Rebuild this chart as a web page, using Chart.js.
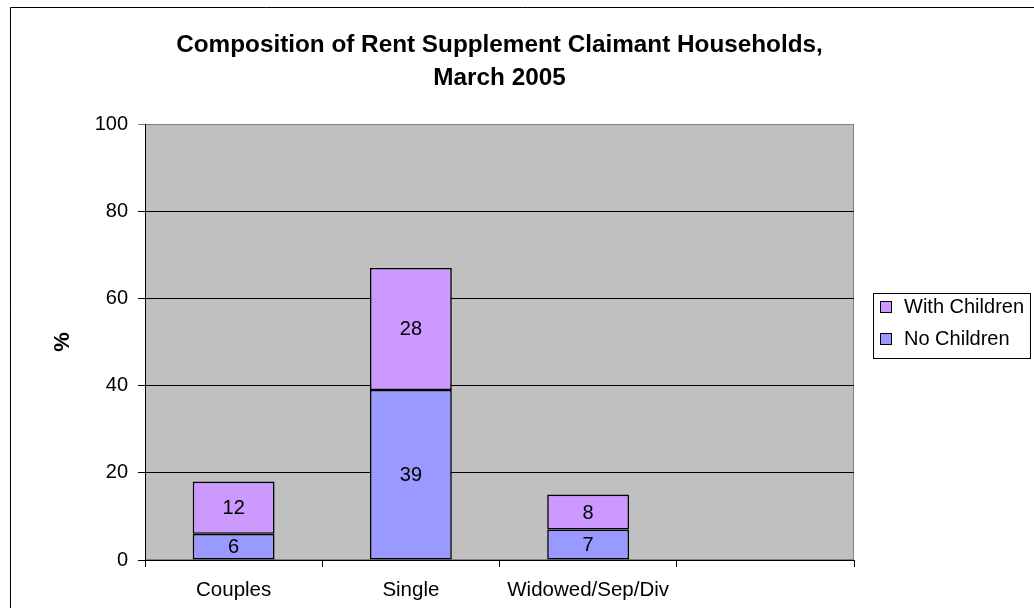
<!DOCTYPE html>
<html>
<head>
<meta charset="utf-8">
<script src="https://cdn.jsdelivr.net/npm/chart.js@4/dist/chart.umd.min.js"></script>
<style>
  html, body { margin: 0; padding: 0; background: #fff; }
  #wrap { width: 1034px; height: 608px; position: relative; }
</style>
</head>
<body>
<div id="wrap"><canvas id="chart" width="1034" height="608"></canvas></div>
<script>
const categories = ['Couples', 'Single', 'Widowed/Sep/Div', ''];
const noChildren = [6, 39, 7, null];
const withChildren = [12, 28, 8, null];
const yTicks = [0, 20, 40, 60, 80, 100];

const FONT = "'Liberation Sans', Arial, sans-serif";
const PURPLE = '#CC99FF';
const BLUE = '#9999FF';

Chart.defaults.font.family = FONT;
Chart.defaults.color = '#000';

// gray plot area, outer chart frame
const backdrop = {
    id: 'backdrop',
    beforeDraw(chart) {
        const {ctx, chartArea: a} = chart;
        ctx.save();
        ctx.fillStyle = '#C0C0C0';
        ctx.fillRect(a.left, a.top, a.right - a.left, a.bottom - a.top);
        ctx.strokeStyle = '#808080';
        ctx.lineWidth = 1;
        ctx.strokeRect(a.left + 0.5, a.top + 0.5, a.right - a.left - 1, a.bottom - a.top - 1);
        // outer frame
        ctx.strokeStyle = '#000';
        ctx.beginPath();
        ctx.moveTo(10.5, 608);
        ctx.lineTo(10.5, 7.5);
        ctx.lineTo(1034, 7.5);
        ctx.stroke();
        ctx.restore();
    }
};

// value labels in the middle of each segment
const valueLabels = {
    id: 'valueLabels',
    afterDatasetsDraw(chart) {
        const ctx = chart.ctx;
        ctx.save();
        ctx.font = '20px ' + FONT;
        ctx.fillStyle = '#000';
        ctx.textAlign = 'center';
        ctx.textBaseline = 'middle';
        chart.data.datasets.forEach((ds, i) => {
            chart.getDatasetMeta(i).data.forEach((bar, j) => {
                const v = ds.data[j];
                if (v == null) return;
                const {x, y, base} = bar.getProps(['x', 'y', 'base'], true);
                ctx.fillText(String(v), x, (y + base) / 2 + 1);
            });
        });
        ctx.restore();
    }
};

// excel style boxed legend
const boxLegend = {
    id: 'boxLegend',
    afterDraw(chart) {
        const ctx = chart.ctx;
        const items = [chart.data.datasets[1], chart.data.datasets[0]];
        const left = 873, top = 293, w = 157, h = 65;
        ctx.save();
        ctx.fillStyle = '#fff';
        ctx.fillRect(left, top, w, h);
        ctx.strokeStyle = '#000';
        ctx.lineWidth = 1;
        ctx.strokeRect(left + 0.5, top + 0.5, w, h);
        ctx.font = '20px ' + FONT;
        ctx.textBaseline = 'middle';
        items.forEach((ds, i) => {
            const cy = top + 13 + i * 32;
            ctx.fillStyle = ds.backgroundColor;
            ctx.fillRect(880, cy - 5, 12, 12);
            ctx.strokeRect(880.5, cy - 4.5, 11, 11);
            ctx.fillStyle = '#000';
            ctx.fillText(ds.label, 904, cy + 1);
        });
        ctx.restore();
    }
};

new Chart(document.getElementById('chart'), {
    type: 'bar',
    data: {
        labels: categories,
        datasets: [
            {
                label: 'No Children',
                data: noChildren,
                backgroundColor: BLUE,
                borderColor: '#000',
                borderWidth: 1.6,
                borderSkipped: false,
            },
            {
                label: 'With Children',
                data: withChildren,
                backgroundColor: PURPLE,
                borderColor: '#000',
                borderWidth: 1.6,
                borderSkipped: false,
            },
        ]
    },
    options: {
        responsive: false,
        animation: false,
        events: [],
        layout: {padding: {left: 47, right: 180, top: 0, bottom: 0}},
        datasets: {bar: {categoryPercentage: 1, barPercentage: 0.462}},
        plugins: {
            legend: {display: false},
            tooltip: {enabled: false},
            title: {
                display: true,
                fullSize: false,
                text: ['Composition of Rent Supplement Claimant Households,', 'March 2005'],
                font: {size: 24.3, weight: 'bold', lineHeight: 1.36},
                color: '#000',
                padding: {top: 29, bottom: 29},
            },
        },
        scales: {
            x: {
                stacked: true,
                grid: {offset: true, drawOnChartArea: false, tickLength: 7, color: '#000'},
                border: {display: true, color: '#000'},
                ticks: {font: {size: 20.5}, padding: 11, maxRotation: 0},
                afterFit(s) { s.height = 48; },
            },
            y: {
                stacked: true,
                min: 0,
                max: 100,
                afterBuildTicks(s) { s.ticks = yTicks.map(v => ({value: v})); },
                grid: {
                    tickLength: 7,
                    color: c => (c.tick && c.tick.value === 100) ? '#808080' : '#000',
                },
                border: {display: true, color: '#000'},
                ticks: {font: {size: 20}, padding: 10},
                title: {
                    display: true,
                    text: '%',
                    font: {size: 22, weight: 'bold'},
                    padding: {top: 3, bottom: 4},
                },
                afterFit(s) { s.width = 98; },
            },
        },
    },
    plugins: [backdrop, valueLabels, boxLegend],
});
</script>
</body>
</html>
